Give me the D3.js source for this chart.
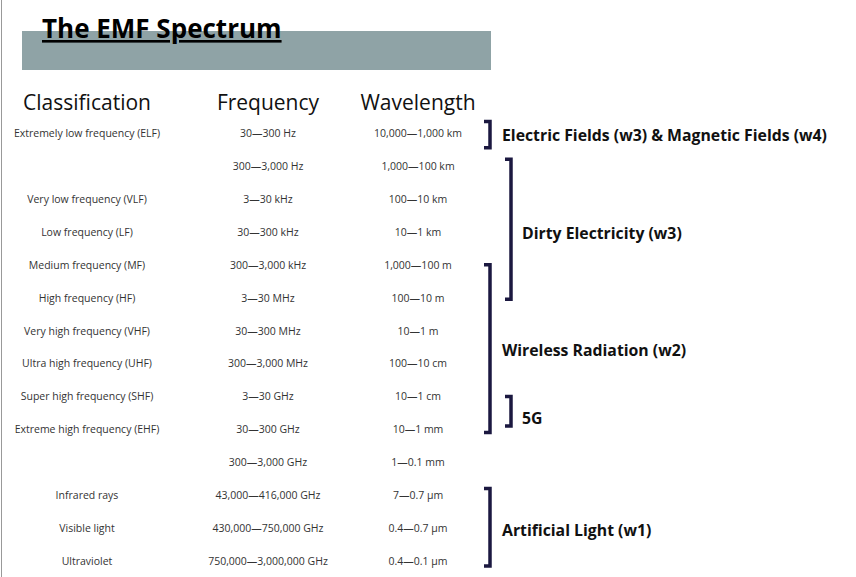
<!DOCTYPE html>
<html><head><meta charset="utf-8">
<script src="https://cdn.jsdelivr.net/npm/d3@7"></script>
<style>body{margin:0;background:#fff}text{font-family:"Open Sans",Lato,sans-serif}</style>
</head><body><svg id="c" width="856" height="577"></svg>
<script>
const classifications=["Extremely low frequency (ELF)","","Very low frequency (VLF)","Low frequency (LF)","Medium frequency (MF)","High frequency (HF)","Very high frequency (VHF)","Ultra high frequency (UHF)","Super high frequency (SHF)","Extreme high frequency (EHF)","","Infrared rays","Visible light","Ultraviolet"];
const frequencies=["30—300 Hz","300—3,000 Hz","3—30 kHz","30—300 kHz","300—3,000 kHz","3—30 MHz","30—300 MHz","300—3,000 MHz","3—30 GHz","30—300 GHz","300—3,000 GHz","43,000—416,000 GHz","430,000—750,000 GHz","750,000—3,000,000 GHz"];
const wavelengths=["10,000—1,000 km","1,000—100 km","100—10 km","10—1 km","1,000—100 m","100—10 m","10—1 m","100—10 cm","10—1 cm","10—1 mm","1—0.1 mm","7—0.7 µm","0.4—0.7 µm","0.4—0.1 µm"];
const headers=["Classification","Frequency","Wavelength"];
const groups=[
 {label:"Electric Fields (w3) & Magnetic Fields (w4)",from:-0.35,to:0.45,col:0,at:0.05},
 {label:"Dirty Electricity (w3)",from:0.8,to:5.05,col:1,at:3.05},
 {label:"Wireless Radiation (w2)",from:4.0,to:9.1,col:0,at:6.6},
 {label:"5G",from:8.0,to:8.9,col:1,at:8.65},
 {label:"Artificial Light (w1)",from:10.8,to:13.15,col:0,at:12.05}
];
const svg=d3.select("#c");
const y=d3.scaleLinear().domain([0,13]).range([135,563]);
const colX=[87,268,418];
const bx=[490,511], lx=[502,522];
svg.append("line").attr("x1",1.5).attr("x2",1.5).attr("y1",0).attr("y2",577).attr("stroke","#999");
svg.append("rect").attr("x",22).attr("y",31).attr("width",469).attr("height",39).attr("fill","#8fa3a6");
svg.append("text").attr("x",42).attr("y",38).attr("font-size",26).attr("font-weight",700).attr("text-decoration","underline").attr("fill","#000").text("The EMF Spectrum");
svg.selectAll(".h").data(headers).join("text").attr("x",(d,i)=>colX[i]).attr("y",110).attr("text-anchor","middle").attr("font-size",21).attr("fill","#111").text(d=>d);
[classifications,frequencies,wavelengths].forEach((arr,c)=>{
 svg.selectAll(".r"+c).data(arr).join("text").attr("x",colX[c]).attr("y",(d,i)=>y(i)+2).attr("text-anchor","middle").attr("font-size",10.5).attr("fill","#333").text(d=>d);
});
const g=svg.selectAll(".g").data(groups).join("g");
g.append("path").attr("d",d=>{const x=bx[d.col],a=y(d.from)-2,b=y(d.to)-2;return `M${x-6},${a}H${x}V${b}H${x-6}`;}).attr("fill","none").attr("stroke","#1b1840").attr("stroke-width",3.5);
g.append("text").attr("x",d=>lx[d.col]).attr("y",d=>y(d.at)+4).attr("font-size",15.8).attr("font-weight",700).attr("fill","#111").text(d=>d.label);
</script></body></html>
